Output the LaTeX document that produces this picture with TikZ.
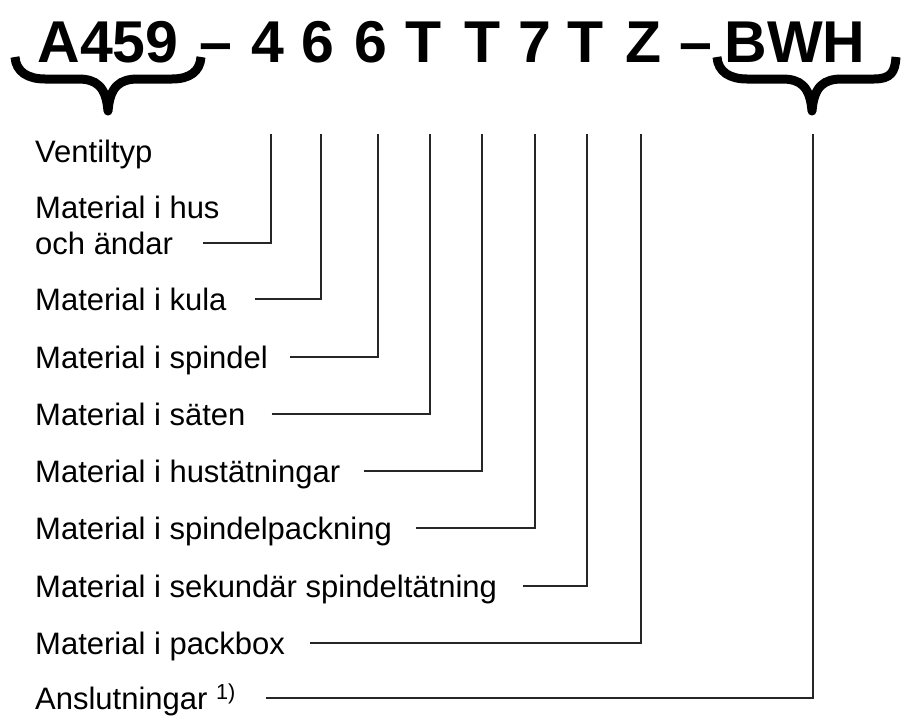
\documentclass[tikz,border=0pt]{standalone}
\usepackage{fontspec}
\setmainfont{Liberation Sans}
\usetikzlibrary{positioning}

\begin{document}
\begin{tikzpicture}[x = 1pt, y = -1pt,
    code/.style = { anchor = base, inner sep = 0pt, font = \fontsize{59}{70}\selectfont\bfseries },
    lbl/.style = { anchor = base west, inner sep = 0pt, text height = 22pt, text depth = 0pt,
      font = \fontsize{31}{36}\selectfont },
    leader/.style = { draw = black!85, line width = 1.8pt },
    codebrace/.style = { line width = 9pt, line join = round }]
  \useasboundingbox (0,0) rectangle (902,715);

  % the type code
  \node[code] (typ) at (108,62) {A459};
  \node[code] (d1) at (216,62) {–};
  \node[code] (c1) at (268,62) {4};
  \node[code] (c2) at (318,62) {6};
  \node[code] (c3) at (371,62) {6};
  \node[code] (c4) at (424,62) {T};
  \node[code] (c5) at (483,62) {T};
  \node[code] (c6) at (535,62) {7};
  \node[code] (c7) at (586,62) {T};
  \node[code] (c8) at (644,62) {Z};
  \node[code] (d2) at (696,62) {–};
  \node[code] (conn) at (795,62) {BWH};

  % braces
  \draw[codebrace] (15,57) .. controls (16,72) and (28,79) .. (45,79) -- (78,79)
    .. controls (96,79) and (106,86) .. (108,111) .. controls (110,86) and (120,79) .. (138,79)
    -- (172,79) .. controls (189,79) and (200,72) .. (201,57);
  \draw[codebrace, xshift = 704pt] (13,57) .. controls (14,72) and (26,79) .. (43,79) -- (78,79)
    .. controls (96,79) and (106,86) .. (108,111) .. controls (110,86) and (120,79) .. (138,79)
    -- (170,79) .. controls (187,79) and (191,72) .. (192,57);

  % where the leaders end
  \coordinate (p1) at (271,134);
  \coordinate (p2) at (321,134);
  \coordinate (p3) at (378,134);
  \coordinate (p4) at (430,134);
  \coordinate (p5) at (482,134);
  \coordinate (p6) at (535,134);
  \coordinate (p7) at (587,134);
  \coordinate (p8) at (641,134);
  \coordinate (p9) at (813,134);

  % labels
  \node[lbl] (ventil) at (35,162) {Ventiltyp};
  \node[lbl] (hus) at (35,218) {Material i hus};
  \node[lbl] (andar) at (35,254) {och ändar};
  \node[lbl] (kula) at (35,310) {Material i kula};
  \node[lbl] (spindel) at (35,368) {Material i spindel};
  \node[lbl] (saten) at (35,425) {Material i säten};
  \node[lbl] (hustat) at (35,482) {Material i hustätningar};
  \node[lbl] (spack) at (35,539) {Material i spindelpackning};
  \node[lbl] (sek) at (35,597) {Material i sekundär spindeltätning};
  \node[lbl] (packbox) at (35,654) {Material i packbox};
  \node[lbl] (ansl) at (35,709) {Anslutningar \textsuperscript{1)}};

  % leaders
  \draw[leader] ([xshift = 30pt]andar.east) -| (p1);
  \draw[leader] ([xshift = 28pt]kula.east) -| (p2);
  \draw[leader] ([xshift = 22pt]spindel.east) -| (p3);
  \draw[leader] ([xshift = 26pt]saten.east) -| (p4);
  \draw[leader] ([xshift = 24pt]hustat.east) -| (p5);
  \draw[leader] ([xshift = 24pt]spack.east) -| (p6);
  \draw[leader] ([xshift = 26pt]sek.east) -| (p7);
  \draw[leader] ([xshift = 25pt]packbox.east) -| (p8);
  \draw[leader] ([xshift = 30pt]ansl.east) -| (p9);

\end{tikzpicture}
\end{document}
